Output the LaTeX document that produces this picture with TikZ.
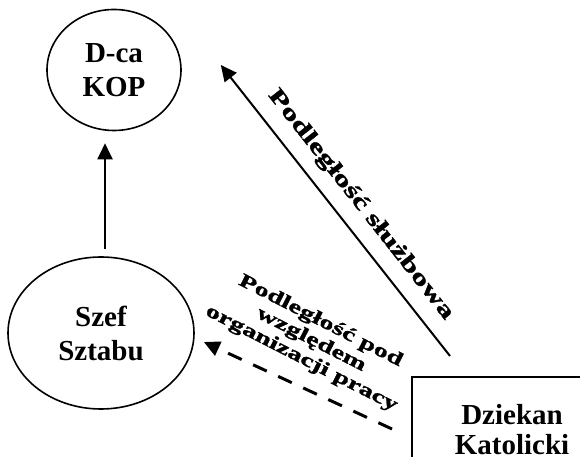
\documentclass[tikz,border=0pt]{standalone}
\usepackage{fontspec}
\setmainfont{Liberation Serif}
\newfontfamily\szeroki[FakeStretch=1.5,FakeBold=1.6]{Liberation Serif}
\usepackage{tikz}
\usetikzlibrary{arrows.meta,calc,positioning,shapes.geometric}

\begin{document}
\begin{tikzpicture}[x=1pt,y=1pt,
        strz/.style={line width=2pt,-{Triangle[length=16pt,width=15pt]}},
        kolo/.style={ellipse,draw,line width=1.6pt,align=center,
            font=\fontsize{29}{34}\selectfont\bfseries},
        ramka/.style={rectangle,draw,line width=2pt,align=center,
            minimum width=200,minimum height=106,
            font=\fontsize{29}{30}\selectfont\bfseries},
        etyk/.style={align=center,font=\szeroki\bfseries\fontsize{22}{24}\selectfont}]
        \clip (0,0) rectangle (580,457);
        \node[kolo,minimum width=134,minimum height=121] (kop) at (114,387) {D-ca\\KOP};
        \node[kolo,minimum width=186,minimum height=152] (szef) at ($(kop)+(-13,-263)$) {Szef\\Sztabu};
        \node[ramka] (dziekan) at (512,27) {Dziekan\\Katolicki};

        \draw[strz,shorten <=7pt,shorten >=12pt] ([xshift=4pt]szef.north) -- ([xshift=-9pt]kop.south);

        \draw[strz] ([shift={(39,20)}]dziekan.north west) -- ([shift={(39,5)}]kop.east)
            node[pos=.47,sloped,above=9pt,etyk] (sluzb) {Podległość służbowa};

        \draw[strz,line width=3pt,dash pattern=on 15pt off 12.6pt] ([shift={(-19,-53)}]dziekan.north west) -- ([shift={(9,-9)}]szef.east);
        \node[etyk,rotate=-27,font=\szeroki\bfseries\fontsize{19}{21}\selectfont] (org) at (311,117)
            {Podległość pod\\względem\\organizacji pracy};
    \end{tikzpicture}
\end{document}
